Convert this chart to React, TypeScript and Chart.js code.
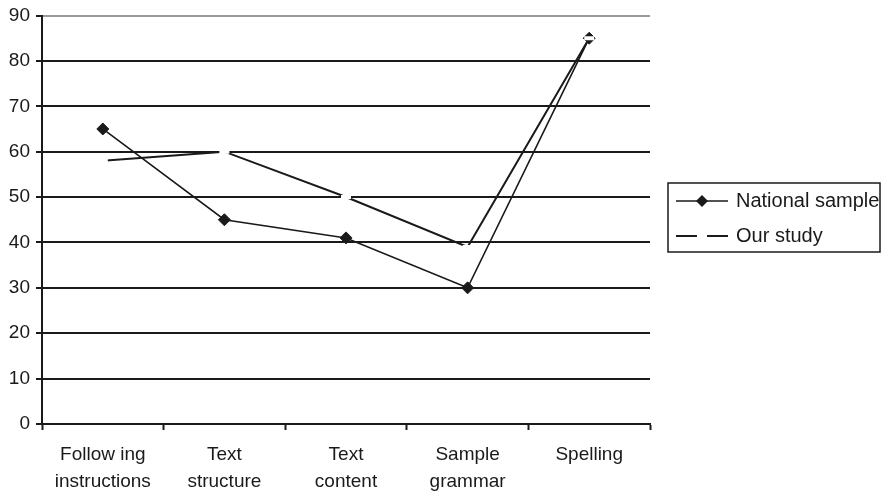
import { useEffect, useRef } from "react";
import { Chart, registerables } from "chart.js";

Chart.register(...registerables);

const categories: string[][] = [
  ["Follow ing", "instructions"],
  ["Text", "structure"],
  ["Text", "content"],
  ["Sample", "grammar"],
  ["Spelling"],
];
const nationalSample: number[] = [65, 45, 41, 30, 85];
const ourStudy: number[] = [58, 60, 50, 39, 85];
const seriesNames: string[] = ["National sample", "Our study"];
const yMin = 0;
const yMax = 90;
const yStep = 10;

const FONT = "'Liberation Sans', Arial, sans-serif";
const INK = "#1a1a1a";
const FS = 19;

const legendPlugin = {
  id: "customLegend",
  afterDraw(chart: any) {
    const ctx = chart.ctx as CanvasRenderingContext2D;
    const x0 = 668;
    const y0 = 183;
    const w = 212;
    const h = 69;
    ctx.save();
    ctx.strokeStyle = INK;
    ctx.lineWidth = 1.5;
    ctx.strokeRect(x0, y0, w, h);
    ctx.font = `20px ${FONT}`;
    ctx.fillStyle = INK;
    ctx.textBaseline = "middle";
    const rows = [y0 + 18, y0 + 53];
    chart.data.datasets.forEach((ds: any, i: number) => {
      const y = rows[i];
      const lx0 = 676;
      const lx1 = 728;
      ctx.strokeStyle = INK;
      ctx.lineWidth = ds.borderWidth;
      ctx.beginPath();
      ctx.moveTo(lx0, y);
      ctx.lineTo(lx1, y);
      ctx.stroke();
      const cx = (lx0 + lx1) / 2;
      if (i === 0) {
        ctx.fillStyle = INK;
        ctx.beginPath();
        ctx.moveTo(cx, y - 6);
        ctx.lineTo(cx + 6, y);
        ctx.lineTo(cx, y + 6);
        ctx.lineTo(cx - 6, y);
        ctx.closePath();
        ctx.fill();
      } else {
        ctx.strokeStyle = "#ffffff";
        ctx.lineWidth = 4;
        ctx.beginPath();
        ctx.moveTo(cx - 5, y);
        ctx.lineTo(cx + 5, y);
        ctx.stroke();
      }
      ctx.fillStyle = INK;
      ctx.fillText(ds.label, 736, y);
    });
    ctx.restore();
  },
};

export default function App() {
  const ref = useRef<HTMLCanvasElement | null>(null);

  useEffect(() => {
    document.body.style.margin = "0";
    if (!ref.current) return;
    const chart = new Chart(ref.current, {
      type: "line",
      data: {
        labels: categories,
        datasets: [
          {
            label: seriesNames[0],
            data: nationalSample,
            borderColor: INK,
            backgroundColor: INK,
            borderWidth: 1.6,
            pointStyle: "rectRot",
            pointRadius: 6,
            pointBackgroundColor: INK,
            pointBorderColor: INK,
            pointBorderWidth: 1,
            tension: 0,
            order: 1,
          },
          {
            label: seriesNames[1],
            data: ourStudy,
            borderColor: INK,
            backgroundColor: "#ffffff",
            borderWidth: 2,
            pointStyle: "line",
            pointRadius: 5,
            pointBorderColor: "#ffffff",
            pointBorderWidth: 4,
            tension: 0,
            order: 0,
          },
        ],
      },
      options: {
        animation: false,
        responsive: false,
        maintainAspectRatio: false,
        layout: { padding: { top: 15, right: 234, bottom: 0, left: 0 } },
        plugins: {
          legend: { display: false },
          tooltip: { enabled: false },
        },
        scales: {
          x: {
            type: "category",
            offset: true,
            grid: {
              offset: true,
              drawOnChartArea: false,
              drawTicks: true,
              tickLength: 6,
              tickColor: INK,
              tickWidth: 2,
            },
            border: { color: INK, width: 2 },
            ticks: {
              color: INK,
              font: { family: FONT, size: FS, lineHeight: 1.42 },
              padding: 11,
              maxRotation: 0,
              autoSkip: false,
            },
            afterFit(scale: any) {
              scale.height = 70;
            },
          },
          y: {
            min: yMin,
            max: yMax,
            grid: {
              color: (c: any) => (c.tick && c.tick.value === yMax ? "#9a9a9a" : INK),
              lineWidth: 2,
              drawTicks: true,
              tickLength: 6,
              tickColor: INK,
              tickWidth: 2,
            },
            border: { color: INK, width: 2 },
            ticks: {
              stepSize: yStep,
              color: INK,
              font: { family: FONT, size: FS, lineHeight: 1.0 },
              padding: 6,
            },
            afterFit(scale: any) {
              scale.width = 42;
            },
          },
        },
      },
      plugins: [legendPlugin],
    });
    return () => chart.destroy();
  }, []);

  return (
    <div style={{ width: 884, height: 494, background: "#ffffff" }}>
      <canvas ref={ref} width={884} height={494} style={{ width: 884, height: 494 }} />
    </div>
  );
}
